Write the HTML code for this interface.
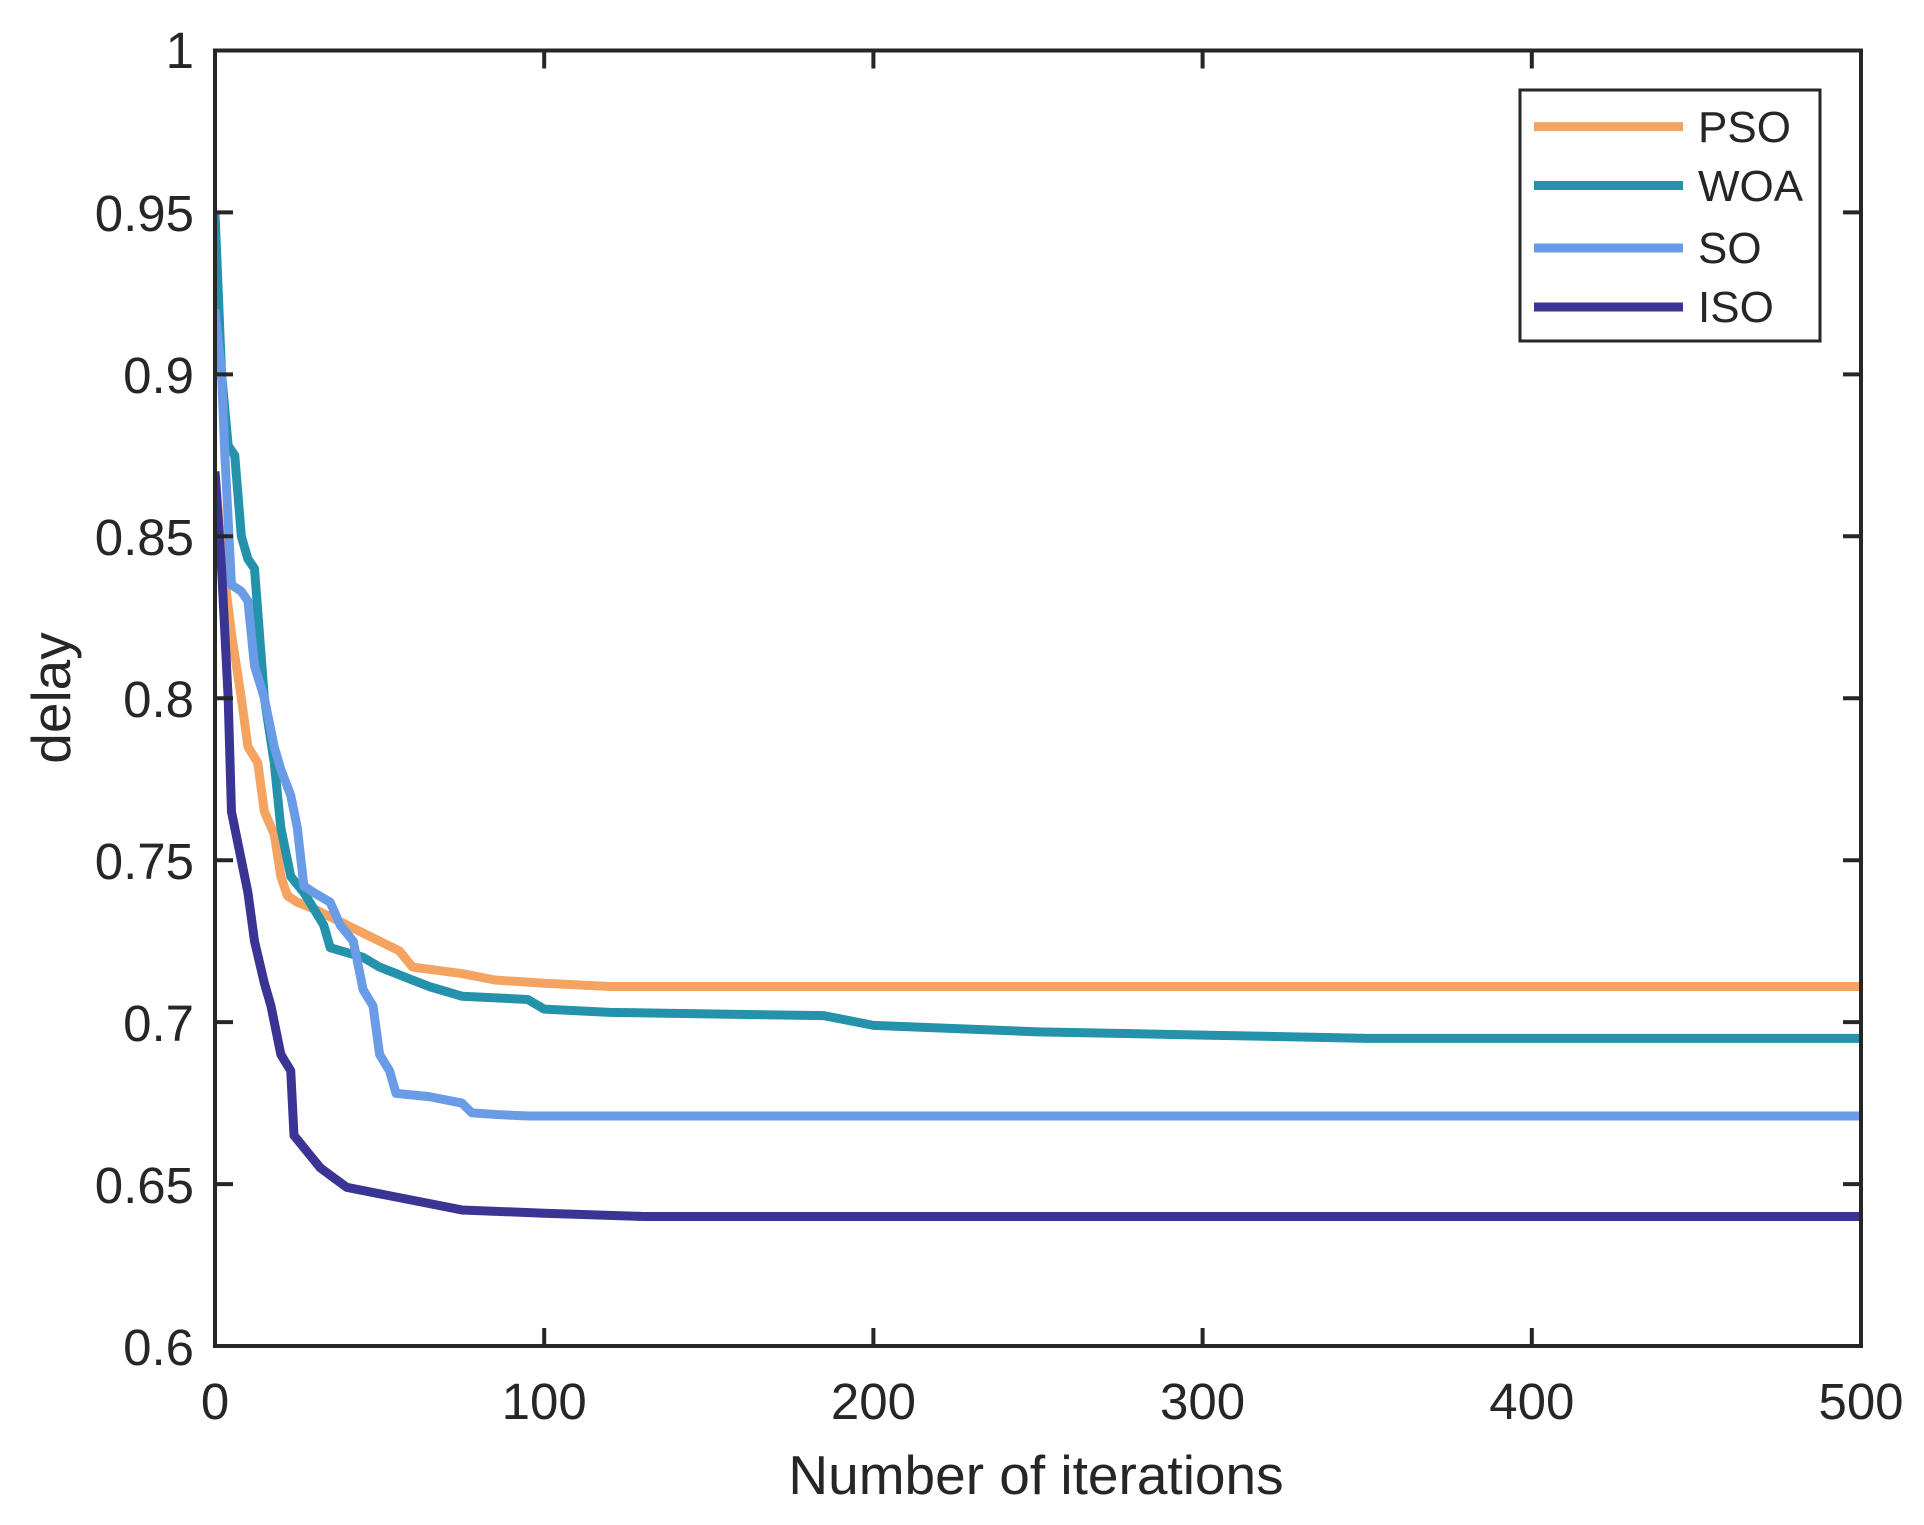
<!DOCTYPE html>
<html><head><meta charset="utf-8"><style>
html,body{margin:0;padding:0;background:#fff;}
svg{display:block;font-family:"Liberation Sans",Arial,sans-serif;}
</style></head><body>
<svg width="1924" height="1525" viewBox="0 0 1924 1525" xmlns="http://www.w3.org/2000/svg">
<rect width="1924" height="1525" fill="#fff"/>
<defs><clipPath id="c"><rect x="215" y="50" width="1646" height="1296"/></clipPath></defs>
<g clip-path="url(#c)" fill="none" stroke-linejoin="round" stroke-width="9">
<g transform="translate(215,3289.25) scale(3.292,-3238.75)">
<polyline vector-effect="non-scaling-stroke" stroke-width="9" stroke="#F4A460" points="0,0.87 2,0.845 5,0.82 8,0.8 10,0.785 13,0.78 15,0.765 18,0.758 20,0.745 22,0.739 25,0.737 30,0.735 40,0.73 50,0.725 56,0.722 60,0.717 75,0.715 85,0.713 100,0.712 120,0.711 500,0.711"/>
<polyline vector-effect="non-scaling-stroke" stroke-width="9" stroke="#2492AA" points="0,0.95 2,0.9 4,0.878 6,0.875 8,0.85 10,0.843 12,0.84 15,0.8 18,0.78 20,0.76 23,0.745 27,0.74 30,0.735 33,0.73 35,0.723 45,0.72 50,0.717 55,0.715 60,0.713 65,0.711 75,0.708 95,0.707 100,0.704 120,0.703 185,0.702 195,0.7 200,0.699 250,0.697 300,0.696 350,0.695 500,0.695"/>
<polyline vector-effect="non-scaling-stroke" stroke-width="9" stroke="#6A9BE6" points="0,0.92 2,0.9 3,0.875 5,0.835 8,0.833 10,0.83 12,0.81 15,0.8 18,0.785 20,0.778 23,0.77 25,0.76 27,0.742 30,0.74 35,0.737 38,0.73 42,0.725 45,0.71 48,0.705 50,0.69 53,0.685 55,0.678 65,0.677 75,0.675 78,0.672 85,0.6715 95,0.671 500,0.671"/>
<polyline vector-effect="non-scaling-stroke" stroke-width="9" stroke="#3A3494" points="0,0.87 2,0.84 3,0.82 4,0.8 5,0.765 8,0.75 10,0.74 12,0.725 15,0.712 17,0.705 20,0.69 23,0.685 24,0.665 28,0.66 32,0.655 36,0.652 40,0.649 50,0.647 60,0.645 75,0.642 100,0.641 130,0.64 500,0.64"/>
</g></g>
<g stroke="#262626" stroke-width="4" fill="none">
<rect x="215" y="50.5" width="1646" height="1295.5"/>
<path d="M544.2,1346v-18M873.4,1346v-18M1202.6,1346v-18M1531.8,1346v-18M544.2,50.5v18M873.4,50.5v18M1202.6,50.5v18M1531.8,50.5v18
M215,212.4h18M215,374.4h18M215,536.3h18M215,698.3h18M215,860.2h18M215,1022.1h18M215,1184.1h18
M1861,212.4h-18M1861,374.4h-18M1861,536.3h-18M1861,698.3h-18M1861,860.2h-18M1861,1022.1h-18M1861,1184.1h-18"/>
</g>
<g fill="#262626" font-size="51" text-anchor="middle">
<text x="215" y="1419">0</text><text x="544.2" y="1419">100</text><text x="873.4" y="1419">200</text><text x="1202.6" y="1419">300</text><text x="1531.8" y="1419">400</text><text x="1861" y="1419">500</text>
</g>
<g fill="#262626" font-size="51" text-anchor="end">
<text x="194" y="68">1</text><text x="194" y="231">0.95</text><text x="194" y="393">0.9</text><text x="194" y="555">0.85</text><text x="194" y="717">0.8</text><text x="194" y="879">0.75</text><text x="194" y="1041">0.7</text><text x="194" y="1203">0.65</text><text x="194" y="1365">0.6</text>
</g>
<text x="1036" y="1494" font-size="55" text-anchor="middle" fill="#262626">Number of iterations</text>
<text transform="translate(70,698) rotate(-90)" font-size="55" text-anchor="middle" fill="#262626">delay</text>
<rect x="1520" y="90" width="300" height="251" fill="#fff" stroke="#262626" stroke-width="3"/>
<g stroke-width="9">
<line x1="1534" y1="126.6" x2="1683" y2="126.6" stroke="#F4A460"/>
<line x1="1534" y1="185.5" x2="1683" y2="185.5" stroke="#2492AA"/>
<line x1="1534" y1="248" x2="1683" y2="248" stroke="#6A9BE6"/>
<line x1="1534" y1="307" x2="1683" y2="307" stroke="#3A3494"/>
</g>
<g fill="#262626" font-size="44">
<text x="1698" y="142">PSO</text><text x="1698" y="201">WOA</text><text x="1698" y="263">SO</text><text x="1698" y="322">ISO</text>
</g>
</svg>
</body></html>
